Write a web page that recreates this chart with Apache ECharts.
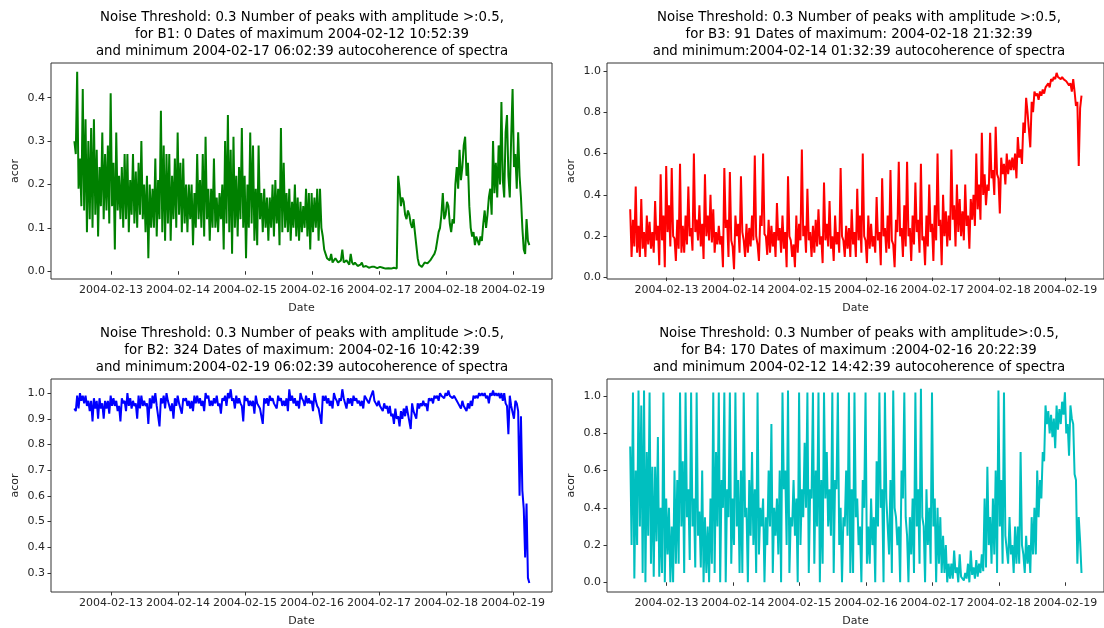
<!DOCTYPE html>
<html><head><meta charset="utf-8">
<script src="https://cdn.jsdelivr.net/npm/echarts@6/dist/echarts.min.js"></script>
<style>html,body{margin:0;padding:0;background:#fff}#c{width:1104px;height:628px}</style>
</head><body><div id="c"></div>
<script>
// ---- data (half-hourly samples starting 2004-02-12 10:52:39 UTC) ----
const START_TIME = '2004-02-12T10:52:39Z';
const STEP_MINUTES = 30;
const DATE_TICKS = ['2004-02-13','2004-02-14','2004-02-15','2004-02-16','2004-02-17','2004-02-18','2004-02-19'];

const B1 = [
0.30,0.27,0.46,0.19,0.26,0.15,0.42,0.14,0.35,0.09,0.30,0.12,0.33,0.10,0.35,0.13,0.28,0.08,0.24,0.15,
0.32,0.12,0.27,0.14,0.29,0.11,0.41,0.15,0.25,0.05,0.32,0.14,0.22,0.12,0.24,0.10,0.27,0.12,0.27,0.09,
0.21,0.13,0.27,0.11,0.23,0.10,0.25,0.13,0.30,0.12,0.20,0.09,0.22,0.03,0.20,0.10,0.19,0.10,0.26,0.08,
0.21,0.12,0.37,0.09,0.29,0.07,0.27,0.11,0.27,0.07,0.22,0.12,0.26,0.10,0.32,0.13,0.25,0.09,0.26,0.11,
0.20,0.09,0.20,0.12,0.20,0.06,0.18,0.10,0.27,0.12,0.21,0.10,0.27,0.08,0.31,0.12,0.19,0.07,0.19,0.10,
0.26,0.10,0.17,0.09,0.18,0.12,0.20,0.05,0.30,0.11,0.36,0.09,0.28,0.04,0.31,0.10,0.22,0.08,0.24,0.12,
0.33,0.10,0.22,0.03,0.20,0.10,0.32,0.11,0.29,0.07,0.19,0.06,0.29,0.12,0.18,0.09,0.19,0.10,0.17,0.07,
0.17,0.10,0.20,0.08,0.21,0.11,0.19,0.06,0.33,0.09,0.25,0.10,0.18,0.09,0.19,0.07,0.16,0.10,0.20,0.08,
0.17,0.07,0.16,0.09,0.15,0.10,0.19,0.08,0.18,0.05,0.18,0.09,0.17,0.10,0.19,0.07,0.19,0.10,0.08,0.05,
0.04,0.03,0.03,0.025,0.04,0.02,0.02,0.03,0.03,0.02,0.02,0.025,0.05,0.02,0.02,0.025,0.02,0.015,0.04,0.02,
0.015,0.02,0.02,0.012,0.01,0.015,0.02,0.01,0.01,0.012,0.01,0.008,0.012,0.01,0.008,0.01,0.01,0.007,0.008,0.01,
0.006,0.008,0.009,0.006,0.006,0.007,0.008,0.006,0.005,0.008,0.01,0.006,0.22,0.19,0.15,0.17,0.16,0.13,0.12,0.14,
0.13,0.11,0.10,0.12,0.09,0.06,0.03,0.015,0.012,0.01,0.015,0.02,0.02,0.018,0.02,0.025,0.03,0.035,0.04,0.05,
0.07,0.09,0.10,0.13,0.18,0.12,0.13,0.16,0.15,0.11,0.09,0.12,0.11,0.20,0.24,0.19,0.28,0.21,0.24,0.29,
0.31,0.22,0.25,0.15,0.10,0.08,0.09,0.06,0.08,0.07,0.06,0.08,0.07,0.11,0.14,0.10,0.13,0.17,0.19,0.13,
0.30,0.18,0.25,0.17,0.29,0.20,0.39,0.21,0.17,0.32,0.36,0.22,0.17,0.31,0.42,0.24,0.27,0.19,0.32,0.22,
0.17,0.10,0.05,0.04,0.12,0.07,0.06];

const B3 = [
0.33,0.10,0.28,0.15,0.44,0.12,0.25,0.10,0.38,0.14,0.22,0.10,0.30,0.16,0.27,0.14,0.22,0.12,0.37,0.18,
0.25,0.06,0.50,0.18,0.30,0.05,0.54,0.22,0.35,0.15,0.53,0.20,0.19,0.08,0.28,0.14,0.55,0.12,0.25,0.12,
0.30,0.16,0.44,0.20,0.24,0.13,0.60,0.22,0.28,0.18,0.35,0.15,0.26,0.09,0.50,0.20,0.30,0.18,0.40,0.17,
0.33,0.12,0.22,0.16,0.25,0.16,0.20,0.05,0.53,0.24,0.28,0.10,0.51,0.18,0.15,0.04,0.30,0.20,0.26,0.12,
0.49,0.22,0.18,0.10,0.26,0.12,0.24,0.15,0.30,0.18,0.59,0.20,0.16,0.08,0.30,0.25,0.60,0.21,0.20,0.11,
0.28,0.12,0.25,0.15,0.22,0.10,0.36,0.18,0.24,0.12,0.30,0.14,0.22,0.05,0.49,0.20,0.18,0.10,0.16,0.05,
0.30,0.12,0.26,0.18,0.62,0.20,0.25,0.12,0.43,0.18,0.22,0.10,0.25,0.12,0.28,0.15,0.33,0.16,0.20,0.07,
0.46,0.18,0.26,0.15,0.37,0.14,0.20,0.08,0.30,0.16,0.22,0.12,0.53,0.20,0.18,0.10,0.25,0.14,0.24,0.10,
0.33,0.16,0.22,0.10,0.43,0.18,0.30,0.12,0.60,0.20,0.18,0.07,0.30,0.14,0.26,0.15,0.20,0.12,0.39,0.18,
0.22,0.06,0.48,0.20,0.24,0.12,0.30,0.14,0.52,0.18,0.16,0.05,0.28,0.22,0.56,0.20,0.24,0.10,0.35,0.15,
0.56,0.20,0.24,0.08,0.30,0.16,0.46,0.22,0.28,0.12,0.55,0.18,0.20,0.06,0.30,0.15,0.45,0.22,0.26,0.08,
0.35,0.18,0.60,0.25,0.28,0.06,0.40,0.20,0.32,0.15,0.30,0.18,0.62,0.28,0.35,0.15,0.45,0.22,0.38,0.20,
0.32,0.18,0.45,0.25,0.30,0.14,0.38,0.28,0.40,0.25,0.60,0.33,0.45,0.28,0.70,0.40,0.50,0.35,0.45,0.42,
0.70,0.48,0.52,0.40,0.73,0.50,0.48,0.31,0.58,0.50,0.55,0.45,0.60,0.50,0.57,0.52,0.58,0.52,0.60,0.48,
0.68,0.58,0.62,0.55,0.75,0.70,0.87,0.80,0.80,0.63,0.85,0.80,0.90,0.88,0.89,0.86,0.90,0.88,0.91,0.89,
0.92,0.93,0.94,0.92,0.96,0.95,0.97,0.96,0.99,0.97,0.97,0.96,0.97,0.96,0.96,0.95,0.95,0.93,0.94,0.90,
0.96,0.90,0.83,0.85,0.54,0.82,0.88];

const B2 = [
0.94,0.93,0.99,0.94,1.00,0.97,0.99,0.96,0.99,0.95,0.97,0.93,0.97,0.89,0.98,0.94,0.97,0.90,0.98,0.94,
0.96,0.90,0.97,0.94,0.97,0.92,0.99,0.95,0.98,0.95,0.97,0.93,0.95,0.89,0.98,0.96,0.97,0.93,1.00,0.95,
0.98,0.94,0.97,0.95,0.96,0.90,0.99,0.94,0.99,0.95,0.97,0.95,0.96,0.88,0.98,0.94,0.99,0.96,1.00,0.95,
0.95,0.87,0.98,0.96,0.99,0.94,1.00,0.97,0.97,0.93,0.96,0.90,0.98,0.95,0.99,0.96,0.96,0.92,0.98,0.97,
0.98,0.95,0.97,0.94,0.97,0.93,0.99,0.96,0.99,0.96,0.98,0.95,0.97,0.93,1.00,0.98,0.99,0.95,0.97,0.95,
0.98,0.96,0.99,0.95,0.96,0.92,0.98,0.97,0.99,0.95,1.00,0.98,1.015,0.97,0.98,0.94,0.99,0.96,0.98,0.96,
0.95,0.89,0.99,0.97,0.98,0.95,0.97,0.95,0.97,0.92,0.99,0.96,0.96,0.94,0.94,0.88,0.98,0.96,0.98,0.95,
0.99,0.97,0.98,0.96,0.96,0.94,0.99,0.97,0.98,0.95,0.97,0.95,0.98,0.93,1.015,0.97,0.99,0.96,0.98,0.95,
0.97,0.94,1.00,0.98,0.97,0.95,0.99,0.96,0.98,0.96,0.97,0.93,1.00,0.97,0.95,0.94,0.94,0.88,0.99,0.97,
0.99,0.96,0.98,0.95,0.97,0.94,1.00,0.98,0.97,0.95,0.98,0.97,1.015,0.98,0.98,0.94,0.98,0.96,0.98,0.95,
0.99,0.97,0.98,0.96,0.97,0.95,0.97,0.94,0.99,0.98,0.98,0.96,0.98,0.98,1.01,0.97,0.96,0.95,0.97,0.95,
0.95,0.93,0.96,0.94,0.95,0.92,0.95,0.91,0.92,0.88,0.94,0.90,0.91,0.87,0.93,0.90,0.94,0.91,0.95,0.92,
0.92,0.86,0.96,0.93,0.93,0.90,0.96,0.94,0.96,0.95,0.97,0.95,0.96,0.93,0.98,0.97,0.98,0.96,0.99,0.98,
0.99,0.97,1.00,0.99,0.99,0.98,1.00,0.99,1.01,0.99,0.99,0.98,0.99,0.99,0.97,0.96,0.96,0.94,0.97,0.95,
0.95,0.93,0.96,0.94,0.97,0.95,0.99,0.98,0.99,0.98,1.00,0.99,1.00,0.99,1.00,0.98,0.99,0.96,1.00,0.99,
1.01,0.99,1.00,0.99,1.00,0.98,1.00,0.97,1.00,0.96,0.95,0.84,0.99,0.95,0.95,0.90,0.97,0.96,0.93,0.60,
0.91,0.62,0.55,0.36,0.57,0.28,0.26];

const B4 = [
0.73,0.20,1.02,0.02,0.60,0.20,1.03,0.30,0.95,0.05,1.03,0.00,0.70,0.25,1.02,0.10,0.62,0.03,0.62,0.22,
0.78,0.03,0.40,0.05,1.02,0.00,0.45,0.15,0.40,0.00,0.30,0.00,0.60,0.10,0.55,0.10,1.02,0.30,0.65,0.05,
1.02,0.35,0.50,0.12,1.02,0.30,0.45,0.08,1.02,0.25,0.38,0.08,0.60,0.00,0.35,0.05,0.30,0.00,0.45,0.10,
1.02,0.05,0.70,0.30,1.02,0.00,0.55,0.40,1.02,0.00,0.50,0.35,1.02,0.10,0.45,0.20,1.02,0.30,0.55,0.05,
0.60,0.05,1.02,0.35,0.40,0.00,0.55,0.25,0.70,0.20,0.50,0.05,1.02,0.15,0.40,0.30,0.45,0.00,0.35,0.20,
0.60,0.30,0.85,0.05,0.40,0.25,0.45,0.15,0.60,0.00,1.02,0.50,0.60,0.20,1.03,0.05,0.35,0.30,0.55,0.25,
0.45,0.00,1.02,0.20,0.50,0.35,0.75,0.40,1.02,0.05,0.50,0.45,1.02,0.10,0.60,0.30,1.02,0.00,0.55,0.10,
1.02,0.45,0.70,0.30,0.50,0.25,1.02,0.05,0.55,0.50,1.02,0.20,0.40,0.00,0.35,0.30,0.60,0.25,1.02,0.05,
0.50,0.05,1.02,0.35,0.45,0.20,0.30,0.00,0.55,0.40,1.02,0.10,0.30,0.10,0.45,0.20,0.35,0.00,0.65,0.30,
1.02,0.40,0.50,0.00,1.02,0.45,0.30,0.15,0.55,0.05,1.03,0.40,0.35,0.20,0.30,0.00,0.60,0.45,1.02,0.35,
0.25,0.00,0.35,0.15,0.45,0.05,1.02,0.30,0.50,0.10,1.04,0.35,0.30,0.00,0.50,0.20,0.40,0.10,1.02,0.30,
0.45,0.00,0.40,0.10,0.35,0.05,0.25,0.05,0.20,0.00,0.10,0.02,0.10,0.02,0.17,0.05,0.08,0.00,0.15,0.03,
0.02,0.01,0.05,0.02,0.10,0.00,0.17,0.04,0.08,0.02,0.12,0.03,0.10,0.05,0.15,0.06,0.45,0.08,0.62,0.20,
0.35,0.10,0.45,0.15,0.60,0.05,1.03,0.30,0.55,0.10,1.02,0.25,0.25,0.10,0.35,0.15,0.20,0.05,0.30,0.10,
0.30,0.10,0.70,0.20,0.15,0.05,0.25,0.10,0.20,0.05,0.35,0.15,0.40,0.15,0.60,0.35,0.55,0.45,0.70,0.65,
0.95,0.85,0.92,0.80,0.90,0.78,0.88,0.72,0.95,0.82,0.93,0.85,0.97,0.90,1.02,0.80,0.85,0.68,0.95,0.88,
0.85,0.58,0.55,0.10,0.35,0.22,0.05];

const Y_TICKS_B1 = [0.0,0.1,0.2,0.3,0.4];
const Y_TICKS_B3 = [0.0,0.2,0.4,0.6,0.8,1.0];
const Y_TICKS_B2 = [0.3,0.4,0.5,0.6,0.7,0.8,0.9,1.0];
const Y_TICKS_B4 = [0.0,0.2,0.4,0.6,0.8,1.0];

const TITLE_B1 = 'Noise Threshold: 0.3 Number of peaks with amplitude >:0.5,\nfor B1: 0 Dates of maximum 2004-02-12 10:52:39\nand minimum 2004-02-17 06:02:39 autocoherence of spectra';
const TITLE_B3 = 'Noise Threshold: 0.3 Number of peaks with amplitude >:0.5,\nfor B3: 91 Dates of maximum: 2004-02-18 21:32:39\nand minimum:2004-02-14 01:32:39 autocoherence of spectra';
const TITLE_B2 = 'Noise Threshold: 0.3 Number of peaks with amplitude >:0.5,\nfor B2: 324 Dates of maximum: 2004-02-16 10:42:39\nand minimum:2004-02-19 06:02:39 autocoherence of spectra';
const TITLE_B4 = 'Noise Threshold: 0.3 Number of peaks with amplitude>:0.5,\nfor B4: 170 Dates of maximum :2004-02-16 20:22:39\nand minimum 2004-02-12 14:42:39 autocoherence of spectra';

// ---- build ----
const FONT = 'DejaVu Sans';
const TXT = '#262626';
const t0 = Date.parse(START_TIME);
const toPts = arr => arr.map((v, i) => [t0 + i * STEP_MINUTES * 60000, v]);
const tickVals = DATE_TICKS.map(s => Date.parse(s + 'T00:00:00Z'));
const X_MIN = Date.parse('2004-02-12T02:30:00Z');
const X_MAX = Date.parse('2004-02-19T14:00:00Z');
const pad = n => (n < 10 ? '0' : '') + n;
const fmtDate = v => { const d = new Date(v); return d.getUTCFullYear() + '-' + pad(d.getUTCMonth() + 1) + '-' + pad(d.getUTCDate()); };

const panels = [
  {left: 51, top: 63,  cx: 302, ty: 9,   data: B1, color: '#008000', ymin: -0.018, ymax: 0.48,  yt: Y_TICKS_B1, title: TITLE_B1},
  {left: 607, top: 63, cx: 859, ty: 9,   data: B3, color: '#ff0000', ymin: -0.007, ymax: 1.038, yt: Y_TICKS_B3, title: TITLE_B3},
  {left: 51, top: 379, cx: 302, ty: 325, data: B2, color: '#0000ff', ymin: 0.225,  ymax: 1.055, yt: Y_TICKS_B2, title: TITLE_B2},
  {left: 607, top: 379, cx: 859, ty: 325, data: B4, color: '#00bfbf', ymin: -0.052, ymax: 1.092, yt: Y_TICKS_B4, title: TITLE_B4}
];

const option = {
  animation: false,
  backgroundColor: '#fff',
  title: panels.map(p => ({
    text: p.title, left: p.cx, top: p.ty, textAlign: 'center', padding: 0,
    textStyle: {fontFamily: FONT, fontSize: 13.3, fontWeight: 'normal', color: '#000', lineHeight: 17}
  })),
  grid: panels.map(p => ({left: p.left, top: p.top, width: 501, height: 216, show: true, borderColor: '#333', borderWidth: 1, backgroundColor: 'transparent', containLabel: false})),
  xAxis: panels.map((p, k) => ({
    gridIndex: k, type: 'value', min: X_MIN, max: X_MAX,
    name: 'Date', nameLocation: 'middle', nameGap: 24,
    nameTextStyle: {fontFamily: FONT, fontSize: 11, color: TXT},
    axisLine: {show: false},
    axisTick: {show: true, length: 3.5, lineStyle: {color: '#333'}, customValues: tickVals},
    axisLabel: {customValues: tickVals, formatter: fmtDate, margin: 6, fontFamily: FONT, fontSize: 11, color: TXT},
    splitLine: {show: false}
  })),
  yAxis: panels.map((p, k) => ({
    gridIndex: k, type: 'value', min: p.ymin, max: p.ymax,
    name: 'acor', nameLocation: 'middle', nameRotate: 90, nameGap: 30,
    nameTextStyle: {fontFamily: FONT, fontSize: 11, color: TXT},
    axisLine: {show: false},
    axisTick: {show: true, length: 3.5, lineStyle: {color: '#333'}, customValues: p.yt},
    axisLabel: {customValues: p.yt, formatter: v => v.toFixed(1), margin: 6, fontFamily: FONT, fontSize: 11, color: TXT},
    splitLine: {show: false}
  })),
  series: panels.map((p, k) => ({
    type: 'line', xAxisIndex: k, yAxisIndex: k, data: toPts(p.data),
    showSymbol: false, symbol: 'none', silent: true, clip: true,
    lineStyle: {width: 2, color: p.color}, itemStyle: {color: p.color}
  }))
};
const chart = echarts.init(document.getElementById('c'), null, {renderer: 'canvas'});
chart.setOption(option);
</script></body></html>
